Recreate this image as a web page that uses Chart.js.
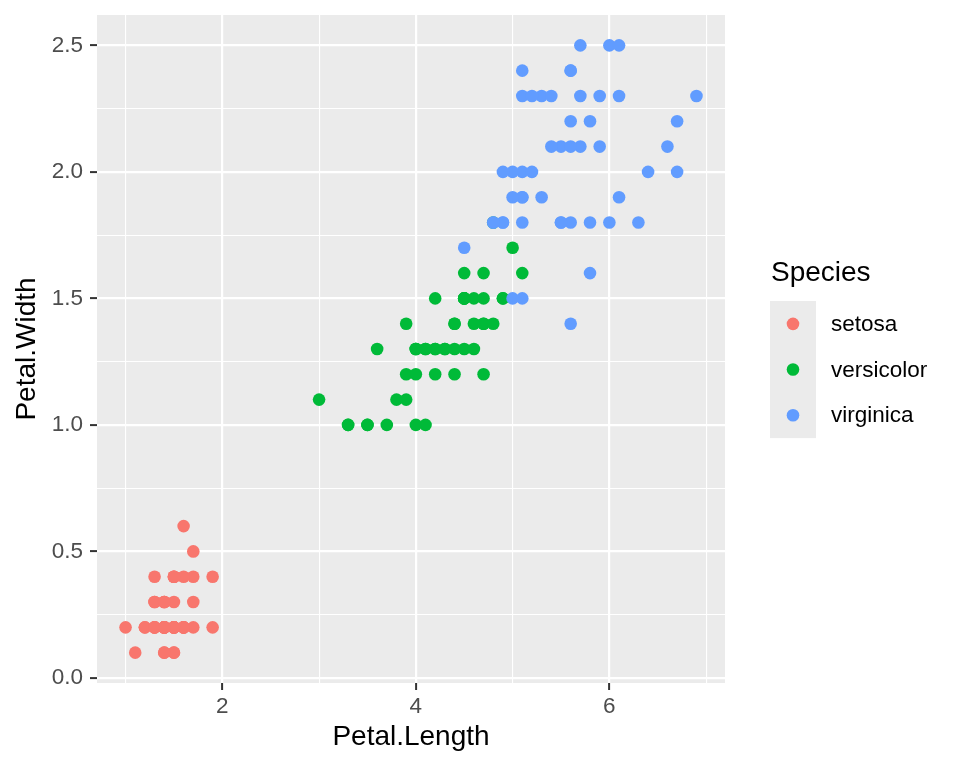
<!DOCTYPE html>
<html>
<head>
<meta charset="utf-8">
<script src="https://cdn.jsdelivr.net/npm/chart.js@4.4.0/dist/chart.umd.min.js"></script>
<style>
  html, body { margin: 0; padding: 0; background: #fff; }
  canvas { display: block; }
</style>
</head>
<body>
<canvas id="chart" width="960" height="768"></canvas>
<script>
const species = ["setosa", "versicolor", "virginica"];
const speciesColors = ["#F8766D", "#00BA38", "#619CFF"];

const setosaLength = [1.4,1.4,1.3,1.5,1.4,1.7,1.4,1.5,1.4,1.5,1.5,1.6,1.4,1.1,1.2,1.5,1.3,1.4,1.7,1.5,1.7,1.5,1.0,1.7,1.9,1.6,1.6,1.5,1.4,1.6,1.6,1.5,1.5,1.4,1.5,1.2,1.3,1.4,1.3,1.5,1.3,1.3,1.3,1.6,1.9,1.4,1.6,1.4,1.5,1.4];
const setosaWidth = [0.2,0.2,0.2,0.2,0.2,0.4,0.3,0.2,0.2,0.1,0.2,0.2,0.1,0.1,0.2,0.4,0.4,0.3,0.3,0.3,0.2,0.4,0.2,0.5,0.2,0.2,0.4,0.2,0.2,0.2,0.2,0.4,0.1,0.2,0.2,0.2,0.2,0.1,0.2,0.2,0.3,0.3,0.2,0.6,0.4,0.3,0.2,0.2,0.2,0.2];

const versicolorLength = [4.7,4.5,4.9,4.0,4.6,4.5,4.7,3.3,4.6,3.9,3.5,4.2,4.0,4.7,3.6,4.4,4.5,4.1,4.5,3.9,4.8,4.0,4.9,4.7,4.3,4.4,4.8,5.0,4.5,3.5,3.8,3.7,3.9,5.1,4.5,4.5,4.7,4.4,4.1,4.0,4.4,4.6,4.0,3.3,4.2,4.2,4.2,4.3,3.0,4.1];
const versicolorWidth = [1.4,1.5,1.5,1.3,1.5,1.3,1.6,1.0,1.3,1.4,1.0,1.5,1.0,1.4,1.3,1.4,1.5,1.0,1.5,1.1,1.8,1.3,1.5,1.2,1.3,1.4,1.4,1.7,1.5,1.0,1.1,1.0,1.2,1.6,1.5,1.6,1.5,1.3,1.3,1.3,1.2,1.4,1.2,1.0,1.3,1.2,1.3,1.3,1.1,1.3];

const virginicaLength = [6.0,5.1,5.9,5.6,5.8,6.6,4.5,6.3,5.8,6.1,5.1,5.3,5.5,5.0,5.1,5.3,5.5,6.7,6.9,5.0,5.7,4.9,6.7,4.9,5.7,6.0,4.8,4.9,5.6,5.8,6.1,6.4,5.6,5.1,5.6,6.1,5.6,5.5,4.8,5.4,5.6,5.1,5.1,5.9,5.7,5.2,5.0,5.2,5.4,5.1];
const virginicaWidth = [2.5,1.9,2.1,1.8,2.2,2.1,1.7,1.8,1.8,2.5,2.0,1.9,2.1,2.0,2.4,2.3,1.8,2.2,2.3,1.5,2.3,2.0,2.0,1.8,2.1,1.8,1.8,1.8,2.1,1.6,1.9,2.0,2.2,1.5,1.4,2.3,2.4,1.8,1.8,2.1,2.4,2.3,1.9,2.3,2.5,2.3,1.9,2.0,2.3,1.8];

const xTicks = [1, 2, 3, 4, 5, 6, 7];
const xLabels = [2, 4, 6];
const yTicks = [0, 0.25, 0.5, 0.75, 1, 1.25, 1.5, 1.75, 2, 2.25, 2.5];
const yLabels = [0, 0.5, 1, 1.5, 2, 2.5];

const FONT = "'Liberation Sans', Arial, Helvetica, sans-serif";

function pairs(xs, ys) {
  return xs.map((x, i) => ({ x: x, y: ys[i] }));
}

const lengths = [setosaLength, versicolorLength, virginicaLength];
const widths = [setosaWidth, versicolorWidth, virginicaWidth];

const datasets = species.map((s, i) => ({
  label: s,
  data: pairs(lengths[i], widths[i]),
  backgroundColor: speciesColors[i],
  borderWidth: 0,
  pointRadius: 6.3,
  pointHoverRadius: 6.3,
  order: 3 - i, // virginica drawn last, like ggplot
}));

const isMajorX = (v) => xLabels.includes(v);
const isMajorY = (v) => yLabels.some((l) => Math.abs(l - v) < 1e-9);

// grey panel behind the points
const panelBg = {
  id: "panelBg",
  beforeDraw(chart) {
    const { ctx, chartArea: a } = chart;
    ctx.save();
    ctx.fillStyle = "#EBEBEB";
    ctx.fillRect(a.left, a.top, a.right - a.left, a.bottom - a.top);
    ctx.restore();
  },
};

// ggplot style legend on the right
const ggLegend = {
  id: "ggLegend",
  afterDraw(chart) {
    const ctx = chart.ctx;
    const left = 770, top = 301, keyW = 46, keyH = 45.7;
    ctx.save();
    ctx.fillStyle = "#000";
    ctx.font = "28px " + FONT;
    ctx.textBaseline = "alphabetic";
    ctx.textAlign = "left";
    ctx.fillText("Species", left + 1, 281);

    ctx.fillStyle = "#EBEBEB";
    ctx.fillRect(left, top, keyW, keyH * species.length);

    species.forEach((s, i) => {
      const cy = top + keyH * (i + 0.5);
      ctx.beginPath();
      ctx.arc(left + keyW / 2, cy, 6.3, 0, Math.PI * 2);
      ctx.fillStyle = speciesColors[i];
      ctx.fill();
      ctx.fillStyle = "#000";
      ctx.font = "22.5px " + FONT;
      ctx.textBaseline = "middle";
      ctx.fillText(s, 831, cy + 1);
    });
    ctx.restore();
  },
};

new Chart(document.getElementById("chart"), {
  type: "scatter",
  data: { datasets },
  plugins: [panelBg, ggLegend],
  options: {
    responsive: false,
    animation: false,
    devicePixelRatio: 1,
    layout: { padding: { top: 15, right: 235, bottom: 0, left: 0 } },
    plugins: {
      legend: { display: false },
      tooltip: { enabled: false },
    },
    scales: {
      x: {
        type: "linear",
        min: 0.705,
        max: 7.195,
        afterBuildTicks: (s) => { s.ticks = xTicks.map((v) => ({ value: v })); },
        afterFit: (s) => {
          s.height = 85;
          s.paddingLeft = 0;
          s.paddingRight = 0;
        },
        border: { display: false },
        grid: {
          color: "#FFFFFF",
          lineWidth: (c) => (isMajorX(c.tick.value) ? 2.2 : 1.1),
          drawTicks: true,
          tickLength: 7,
          tickWidth: 2,
          tickColor: (c) => (isMajorX(c.tick.value) ? "#333333" : "rgba(0,0,0,0)"),
        },
        ticks: {
          autoSkip: false,
          maxRotation: 0,
          padding: 3,
          color: "#4D4D4D",
          font: { family: FONT, size: 22.5 },
          callback: (v) => (isMajorX(v) ? String(v) : ""),
        },
        title: {
          display: true,
          text: "Petal.Length",
          color: "#000",
          font: { family: FONT, size: 28 },
          padding: { top: 14, bottom: 14 },
        },
      },
      y: {
        type: "linear",
        min: -0.02,
        max: 2.62,
        afterBuildTicks: (s) => { s.ticks = yTicks.map((v) => ({ value: v })); },
        afterFit: (s) => {
          s.width = 97;
          s.paddingTop = 0;
          s.paddingBottom = 0;
        },
        border: { display: false },
        grid: {
          color: "#FFFFFF",
          lineWidth: (c) => (isMajorY(c.tick.value) ? 2.2 : 1.1),
          drawTicks: true,
          tickLength: 7,
          tickWidth: 2,
          tickColor: (c) => (isMajorY(c.tick.value) ? "#333333" : "rgba(0,0,0,0)"),
        },
        ticks: {
          autoSkip: false,
          padding: 7,
          color: "#4D4D4D",
          font: { family: FONT, size: 22.5 },
          callback: (v) => (isMajorY(v) ? v.toFixed(1) : ""),
        },
        title: {
          display: true,
          text: "Petal.Width",
          color: "#000",
          font: { family: FONT, size: 28 },
          padding: { top: 10, bottom: 10 },
        },
      },
    },
  },
});
</script>
</body>
</html>
